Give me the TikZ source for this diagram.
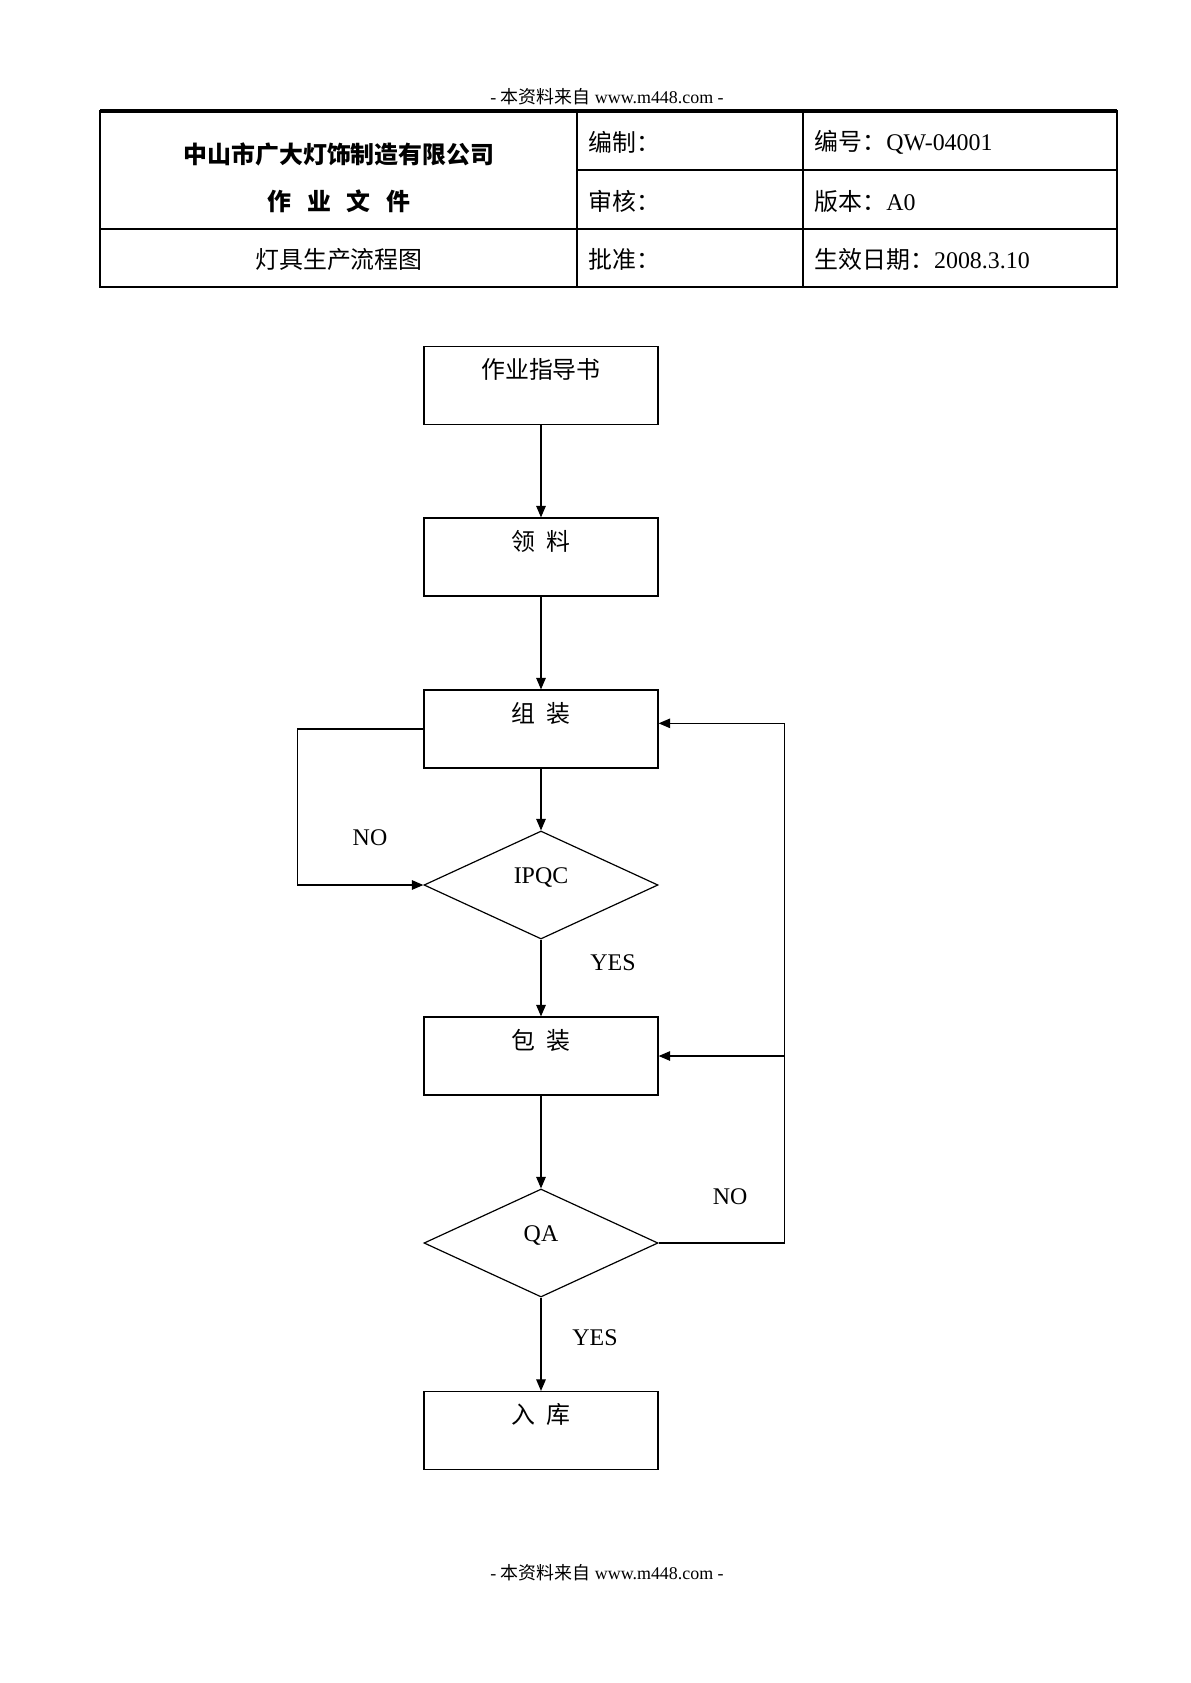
\documentclass[tikz,border=0pt]{standalone}
\usepackage{fontspec}
\setmainfont{Liberation Serif}
\newfontfamily\cjk{Noto Sans CJK SC}
\usetikzlibrary{arrows.meta}
\usetikzlibrary{shapes.geometric}
\newcommand{\boxsizex}{41.3mm}
\newcommand{\boxsizey}{13.76mm}
\newcommand{\decsizey}{19.06mm}
\newcommand{\boxtextdy}{-4.2mm}
\newcommand{\dectextdy}{1.4mm}
\newcommand{\tabxs}{100}
\newcommand{\tabxa}{577}
\newcommand{\tabxb}{803}
\newcommand{\tabxe}{1117}
\newcommand{\tabys}{111}
\newcommand{\tabya}{170}
\newcommand{\tabyb}{229}
\newcommand{\tabye}{287}
\newcommand{\colbx}{588}
\newcommand{\colcx}{814}
\newcommand{\loopl}{-126}
\newcommand{\loopr}{126}

\begin{document}
\begin{tikzpicture}[x=0.17647mm,y=-0.17647mm,
    font=\fontsize{12pt}{14pt}\selectfont,
    line width=0.6pt,
    flow/.style={-{Triangle[length=5.8pt,width=4.8pt]}},
    procbox/.style={draw,rectangle,minimum width=\boxsizex,
      minimum height=\boxsizey,inner sep=0pt},
    decision/.style={draw,diamond,aspect=2.17,minimum width=\boxsizex,
      minimum height=\decsizey,inner sep=0pt},
    boxtext/.style={anchor=center,yshift=\boxtextdy,inner sep=0pt,
      font=\cjk\fontsize{12pt}{14pt}\selectfont},
    dectext/.style={anchor=center,yshift=\dectextdy,inner sep=0pt},
    celltext/.style={anchor=west,inner sep=0pt},
    pagenote/.style={font=\fontsize{9pt}{11pt}\selectfont,inner sep=0pt}]
  \useasboundingbox (0,0) rectangle (1190,1683);
  % page header and footer
  \node[pagenote] (headnote) at (607,97) {- {\cjk 本资料来自} www.m448.com -};
  \node[pagenote] (footnote) at (607,1573) {- {\cjk 本资料来自} www.m448.com -};
  % document table
  \draw (\tabxs,\tabys) rectangle (\tabxe,\tabye);
  \draw[line width=1.6pt] (\tabxs,\tabys) -- (\tabxe,\tabys);
  \draw (\tabxa,\tabys) -- (\tabxa,\tabye);
  \draw (\tabxb,\tabys) -- (\tabxb,\tabye);
  \draw (\tabxa,\tabya) -- (\tabxe,\tabya);
  \draw (\tabxs,\tabyb) -- (\tabxe,\tabyb);
  \node[font=\cjk\bfseries\fontsize{12pt}{14pt}\selectfont] (company)
    at (339,154) {中山市广大灯饰制造有限公司};
  \node[font=\cjk\bfseries\fontsize{12pt}{14pt}\selectfont] (doctype)
    at (339,201) {作\hspace{0.65em}业\hspace{0.65em}文\hspace{0.65em}件};
  \node[font=\cjk\fontsize{12pt}{14pt}\selectfont] (doctitle)
    at (339,259) {灯具生产流程图};
  \node[celltext,font=\cjk\fontsize{12pt}{14pt}\selectfont] (bianzhi)
    at (\colbx,142) {编制：};
  \node[celltext,font=\cjk\fontsize{12pt}{14pt}\selectfont] (shenhe)
    at (\colbx,201) {审核：};
  \node[celltext,font=\cjk\fontsize{12pt}{14pt}\selectfont] (pizhun)
    at (\colbx,259) {批准：};
  \node[celltext] (bianhao) at (\colcx,142) {{\cjk 编号：}QW-04001};
  \node[celltext] (banben) at (\colcx,201) {{\cjk 版本：}A0};
  \node[celltext] (riqi) at (\colcx,259) {{\cjk 生效日期：}2008.3.10};
  % flow steps
  \node[procbox,label={[boxtext]north:作业指导书}] (zhidao) at (541,385.5) {};
  \node[procbox,label={[boxtext]north:领\hspace{0.5em}料}] (lingliao) at (541,557) {};
  \node[procbox,label={[boxtext]north:组\hspace{0.5em}装}] (zuzhuang) at (541,729) {};
  \node[decision,label={[dectext]center:IPQC}] (ipqc) at (541,885) {};
  \node[procbox,label={[boxtext]north:包\hspace{0.5em}装}] (baozhuang) at (541,1056) {};
  \node[decision,label={[dectext]center:QA}] (qa) at (541,1243) {};
  \node[procbox,label={[boxtext]north:入\hspace{0.5em}库}] (ruku) at (541,1430.5) {};
  % main line
  \draw[flow] (zhidao) -- (lingliao);
  \draw[flow] (lingliao) -- (zuzhuang);
  \draw[flow] (zuzhuang) -- (ipqc);
  \draw[flow] (ipqc) -- (baozhuang);
  \draw[flow] (baozhuang) -- (qa);
  \draw[flow] (qa) -- (ruku);
  % ipqc loop
  \draw[flow] (zuzhuang.west) -- ++(\loopl,0) |- (ipqc.west);
  \node (ipqcno) at (370,838) {NO};
  \node (ipqcyes) at (613,963) {YES};
  % qa loop
  \draw[flow] (qa.east) -- ++(\loopr,0) coordinate (qaright)
    |- ([yshift=1mm]zuzhuang.east);
  \draw[flow] (qaright |- baozhuang.east) -- (baozhuang.east);
  \node (qano) at (730,1197) {NO};
  \node (qayes) at (595,1338) {YES};
\end{tikzpicture}
\end{document}
